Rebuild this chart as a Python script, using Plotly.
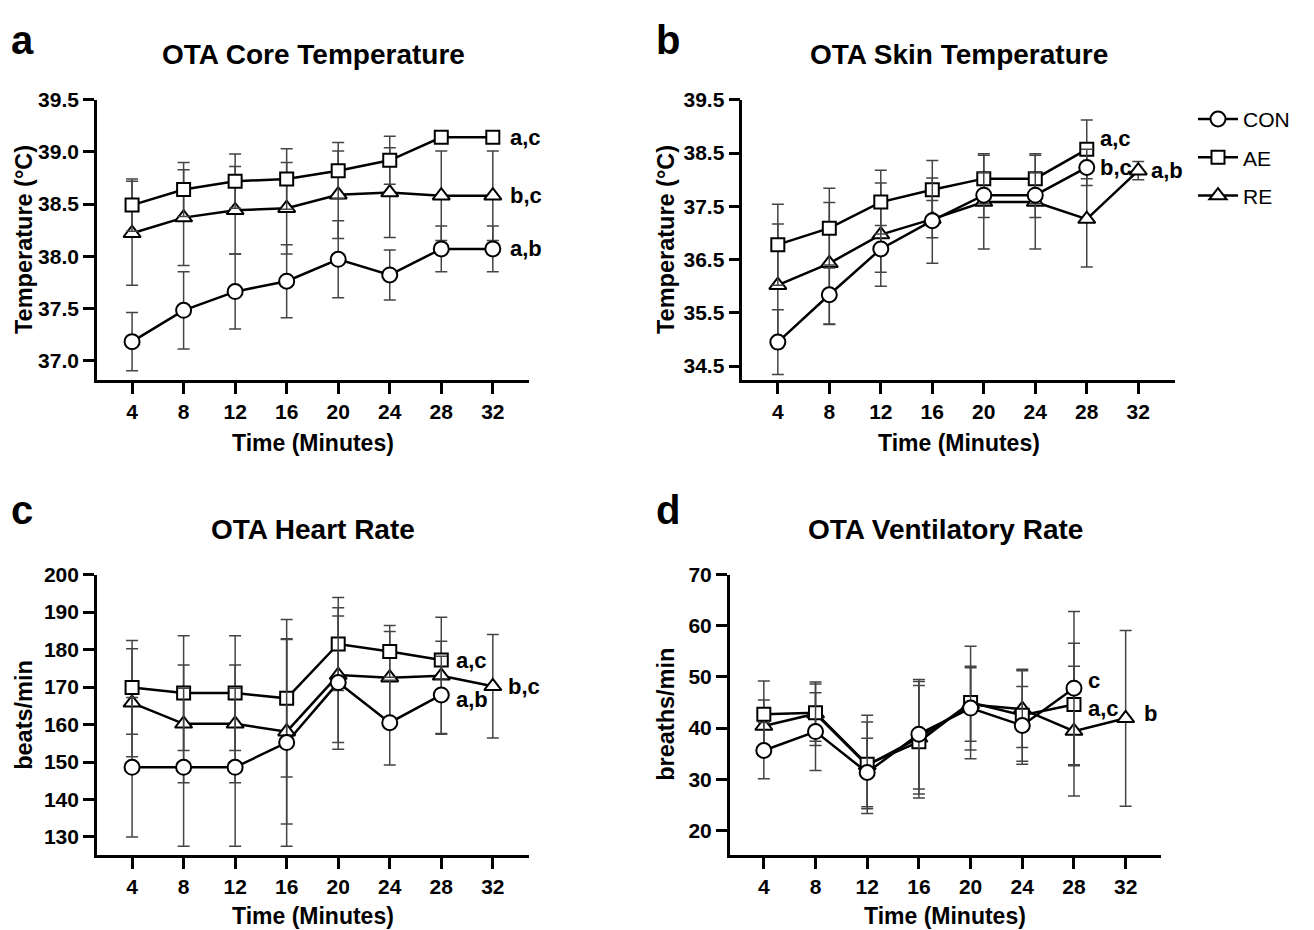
import plotly.graph_objects as go

# ---------------- data ----------------
time_full = [4, 8, 12, 16, 20, 24, 28, 32]
time_short = [4, 8, 12, 16, 20, 24, 28]

# a: core temperature
core_con = [37.18, 37.48, 37.66, 37.76, 37.97, 37.82, 38.07, 38.07]
core_con_sd = [0.28, 0.37, 0.36, 0.35, 0.37, 0.24, 0.22, 0.22]
core_ae = [38.49, 38.64, 38.72, 38.74, 38.82, 38.92, 39.14, 39.14]
core_ae_sd = [0.25, 0.26, 0.26, 0.29, 0.27, 0.23, 0.02, 0.02]
core_re = [38.22, 38.37, 38.44, 38.46, 38.59, 38.61, 38.58, 38.58]
core_re_sd = [0.50, 0.46, 0.42, 0.44, 0.42, 0.43, 0.43, 0.43]

# b: skin temperature
skin_con = [34.95, 35.84, 36.70, 37.23, 37.71, 37.71, 38.23]
skin_con_sd = [0.61, 0.56, 0.44, 0.80, 0.42, 0.42, 0.34]
skin_ae = [36.78, 37.09, 37.58, 37.81, 38.02, 38.02, 38.57]
skin_ae_sd = [0.76, 0.75, 0.60, 0.55, 0.47, 0.47, 0.55]
skin_re = [36.02, 36.43, 36.97, 37.26, 37.58, 37.58, 37.26, 38.17]
skin_re_sd = [1.15, 1.14, 0.97, 0.35, 0.88, 0.88, 0.90, 0.17]

# c: heart rate
hr_con = [148.6, 148.6, 148.6, 155.2, 171.2, 160.5, 167.9]
hr_con_sd = [18.6, 21.1, 21.1, 27.7, 17.8, 11.3, 10.3]
hr_ae = [169.9, 168.4, 168.4, 167.0, 181.5, 179.5, 177.2]
hr_ae_sd = [12.5, 15.3, 15.3, 21.0, 12.4, 6.9, 5.0]
hr_re = [165.8, 160.2, 160.2, 158.1, 173.2, 172.5, 173.0, 170.2]
hr_re_sd = [14.4, 15.7, 15.7, 24.6, 18.0, 12.3, 15.6, 13.8]

# d: ventilatory rate
vr_con = [35.6, 39.3, 31.3, 38.8, 43.9, 40.5, 47.8]
vr_con_sd = [5.5, 7.6, 6.7, 10.7, 8.2, 7.6, 15.0]
vr_ae = [42.7, 43.0, 32.9, 37.3, 45.0, 42.5, 44.6]
vr_ae_sd = [6.5, 5.6, 9.6, 11.0, 11.0, 9.0, 12.0]
vr_re = [40.4, 42.8, 32.7, 38.1, 44.6, 43.7, 39.4, 41.9]
vr_re_sd = [5.1, 6.2, 8.5, 11.0, 7.2, 7.5, 12.7, 17.2]

x_ticks = [4, 8, 12, 16, 20, 24, 28, 32]
core_ticks = [37.0, 37.5, 38.0, 38.5, 39.0, 39.5]
skin_ticks = [34.5, 35.5, 36.5, 37.5, 38.5, 39.5]
hr_ticks = [130, 140, 150, 160, 170, 180, 190, 200]
vr_ticks = [20, 30, 40, 50, 60, 70]

series_names = ["CON", "AE", "RE"]

# ---------------- layout helpers ----------------
W, H = 1314, 930
FONT = "Liberation Sans, Arial, Helvetica, sans-serif"


def px(x):
    return x / W


def py(y):
    return 1 - y / H


panels = [
    dict(letter="a", title="OTA Core Temperature", ytitle="Temperature (°C)",
         dx=(96.9, 529.4), dy=(89, 373), xr=[1.27, 34.84], yr=[36.81, 39.5],
         yt=core_ticks, fmt=".1f", ytx=24,
         data={"CON": (time_full, core_con, core_con_sd),
               "AE": (time_full, core_ae, core_ae_sd),
               "RE": (time_full, core_re, core_re_sd)},
         labels=[(32, 39.14, "a,c", 15, 0), (32, 38.58, "b,c", 15, 0), (32, 38.07, "a,b", 15, 0)]),
    dict(letter="b", title="OTA Skin Temperature", ytitle="Temperature (°C)",
         dx=(742.3, 1174.8), dy=(89, 373), xr=[1.24, 34.84], yr=[34.235, 39.5],
         yt=skin_ticks, fmt=".1f", ytx=666,
         data={"CON": (time_short, skin_con, skin_con_sd),
               "AE": (time_short, skin_ae, skin_ae_sd),
               "RE": (time_full, skin_re, skin_re_sd)},
         labels=[(28, 38.57, "a,c", 11, 11), (28, 38.23, "b,c", 11, 0), (32, 38.17, "a,b", 11, 0)]),
    dict(letter="c", title="OTA Heart Rate", ytitle="beats/min",
         dx=(96.9, 529.4), dy=(570, 854), xr=[1.27, 34.84], yr=[125.2, 200],
         yt=hr_ticks, fmt="d", ytx=24,
         data={"CON": (time_short, hr_con, hr_con_sd),
               "AE": (time_short, hr_ae, hr_ae_sd),
               "RE": (time_full, hr_re, hr_re_sd)},
         labels=[(28, 177.2, "a,c", 13, 0), (28, 167.9, "a,b", 13, -5), (32, 170.2, "b,c", 13, 0)]),
    dict(letter="d", title="OTA Ventilatory Rate", ytitle="breaths/min",
         dx=(729.7, 1161.2), dy=(570, 854), xr=[1.36, 34.75], yr=[15.17, 70],
         yt=vr_ticks, fmt="d", ytx=666,
         data={"CON": (time_short, vr_con, vr_con_sd),
               "AE": (time_short, vr_ae, vr_ae_sd),
               "RE": (time_full, vr_re, vr_re_sd)},
         labels=[(28, 47.8, "c", 12, 8), (28, 44.6, "a,c", 12, -4), (32, 41.9, "b", 16, 5)]),
]

styles = {
    "CON": dict(symbol="circle", size=15, rank=1),
    "AE": dict(symbol="square", size=13, rank=2),
    "RE": dict(symbol="triangle-up", size=15, rank=3),
}

fig = go.Figure()
annotations = []
layout = dict(
    width=W, height=H, margin=dict(l=0, r=0, t=0, b=0),
    paper_bgcolor="white", plot_bgcolor="white",
    font=dict(family=FONT, color="black"),
)

for i, p in enumerate(panels):
    n = "" if i == 0 else str(i + 1)
    xa, ya = "x" + n, "y" + n
    axis_common = dict(showline=True, linewidth=2.5, linecolor="black", ticks="outside",
                       ticklen=11, tickwidth=2.5, tickcolor="black", showgrid=False,
                       zeroline=False, tickfont=dict(family=FONT, size=21, weight="bold", color="black"))
    layout["xaxis" + n] = dict(domain=[px(p["dx"][0]), px(p["dx"][1])], range=p["xr"],
                               tickvals=x_ticks, anchor=ya, **axis_common)
    layout["yaxis" + n] = dict(domain=[py(p["dy"][1]), py(p["dy"][0])], range=p["yr"],
                               tickvals=p["yt"], tickformat=p["fmt"], anchor=xa, **axis_common)

    for name in ["RE", "AE", "CON"]:
        xs, ys, sd = p["data"][name]
        st = styles[name]
        fig.add_trace(go.Scatter(
            x=xs, y=ys, mode="lines+markers", name=name,
            xaxis=xa, yaxis=ya,
            line=dict(color="black", width=2.5),
            marker=dict(symbol=st["symbol"], size=st["size"], color="white",
                        line=dict(color="black", width=2)),
            error_y=dict(type="data", array=sd, visible=True, color="#444444",
                         thickness=1.5, width=6),
            showlegend=(i == 0), legendgroup=name, legendrank=st["rank"],
            cliponaxis=False,
        ))

    for (lx, lyv, txt, xs_, ys_) in p["labels"]:
        annotations.append(dict(x=lx, y=lyv, xref=xa, yref=ya, text=txt, showarrow=False,
                                xanchor="left", yanchor="middle", xshift=xs_, yshift=ys_,
                                font=dict(family=FONT, size=22, weight="bold", color="black")))

    cx = (p["dx"][0] + p["dx"][1]) / 2
    cy = (p["dy"][0] + p["dy"][1]) / 2
    title_y = 43 if p["dy"][0] < 300 else 524
    letter_y = 28 if p["dy"][0] < 300 else 505
    letter_x = 22 if p["dx"][0] < 300 else 668
    xt_y = 437 if p["dy"][0] < 300 else 916
    annotations.append(dict(x=px(cx), y=py(title_y), xref="paper", yref="paper", text=p["title"],
                            showarrow=False, xanchor="center", yanchor="middle",
                            font=dict(family=FONT, size=28, weight="bold", color="black")))
    annotations.append(dict(x=px(letter_x), y=py(letter_y), xref="paper", yref="paper", text=p["letter"],
                            showarrow=False, xanchor="center", yanchor="middle",
                            font=dict(family=FONT, size=40, weight="bold", color="black")))
    annotations.append(dict(x=px(cx), y=py(xt_y), xref="paper", yref="paper", text="Time (Minutes)",
                            showarrow=False, xanchor="center", yanchor="middle",
                            font=dict(family=FONT, size=23, weight="bold", color="black")))
    annotations.append(dict(x=px(p["ytx"]), y=py(cy), xref="paper", yref="paper", text=p["ytitle"],
                            showarrow=False, xanchor="center", yanchor="middle", textangle=-90,
                            font=dict(family=FONT, size=23.5, weight="bold", color="black")))

layout["annotations"] = annotations
layout["legend"] = dict(x=px(1193), y=py(88), xanchor="left", yanchor="top",
                        font=dict(family=FONT, size=21, color="black"),
                        itemwidth=40, tracegroupgap=8, bgcolor="rgba(0,0,0,0)",
                        traceorder="grouped")
fig.update_layout(**layout)
fig.write_html("out.html")
